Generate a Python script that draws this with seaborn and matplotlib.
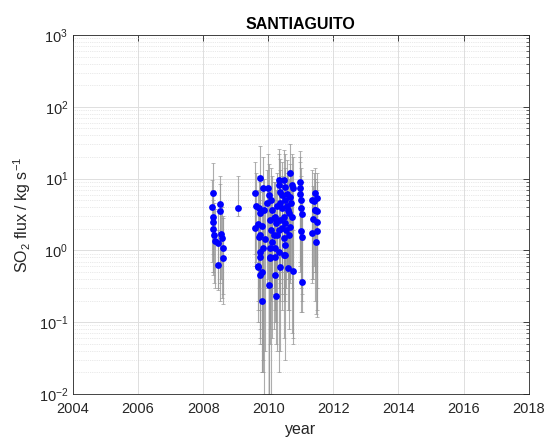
import numpy as np
import pandas as pd
import seaborn as sns
import matplotlib.pyplot as plt
from matplotlib.ticker import LogLocator, NullFormatter

# SO2 flux measurements (year, flux, lower bound, upper bound)
year = [
    2008.31, 2008.28, 2008.31, 2008.29, 2008.30, 2008.33, 2008.37, 2008.46,
    2008.52, 2008.52, 2008.56, 2008.58, 2008.62, 2008.60, 2008.44,
    2009.06,
    2009.73, 2009.60, 2009.84, 2009.98, 2009.62, 2009.70, 2009.75, 2009.86,
    2009.59, 2009.67, 2009.80, 2009.75, 2009.70, 2009.91, 2009.84, 2009.73,
    2009.67, 2010.01, 2009.96,
    2010.08, 2010.12, 2010.16, 2010.06, 2010.22, 2010.25, 2010.08, 2010.16,
    2010.27, 2010.11, 2010.04, 2010.22, 2010.32, 2010.06, 2010.22, 2010.47,
    2010.32, 2010.32, 2010.47, 2010.52, 2010.35, 2010.42, 2010.57, 2010.52,
    2010.37, 2010.27, 2010.42, 2010.57, 2010.63, 2010.47, 2010.37, 2010.52,
    2010.42, 2010.32, 2010.68, 2010.63, 2010.47, 2010.52, 2010.66, 2010.73,
    2010.76, 2010.68, 2010.70, 2010.59, 2010.73, 2010.55, 2010.37,
    2009.75, 2009.68, 2009.81, 2009.75, 2010.03, 2010.24, 2009.82, 2010.22,
    2010.62, 2010.50, 2010.06, 2010.76,
    2010.98, 2010.98, 2010.98, 2011.00, 2011.00, 2011.04, 2011.01, 2011.04,
    2011.04,
    2011.45, 2011.34, 2011.50, 2011.39, 2011.45, 2011.50, 2011.37, 2011.50,
    2011.34, 2011.50, 2011.48, 2011.42,
]
flux = [
    6.3, 4.0, 2.9, 2.5, 2.0, 1.64, 1.35, 1.25,
    4.4, 3.5, 1.7, 1.5, 1.07, 0.79, 0.63,
    3.86,
    10.3, 6.4, 7.3, 7.5, 4.15, 3.85, 3.3, 3.65,
    2.07, 2.33, 2.2, 1.64, 1.55, 1.44, 1.07, 0.82,
    0.59, 5.9, 4.6,
    5.0, 3.7, 2.8, 2.65, 2.9, 2.4, 1.92, 1.64,
    1.64, 1.32, 1.07, 1.07, 0.96, 0.80, 0.80, 0.86,
    9.5, 8.1, 9.5, 7.7, 6.6, 5.9, 6.2, 5.0,
    4.5, 4.1, 3.85, 4.1, 3.3, 2.95, 2.65, 2.4,
    2.03, 1.92, 2.15, 1.64, 1.47, 1.19, 12.1, 8.1,
    7.3, 5.6, 4.5, 3.7, 2.95, 1.92, 0.59,
    0.96, 0.61, 0.50, 0.45, 0.33, 0.23, 0.20, 0.45,
    0.56, 0.86, 0.78, 0.52,
    8.9, 7.3, 6.2, 5.0, 3.85, 3.2, 1.86, 1.55,
    0.36,
    6.4, 5.1, 5.3, 4.8, 3.65, 3.5, 2.7, 2.5,
    1.73, 1.88, 1.32, 3.7,
]
flux_lo = [
    0.9, 0.7, 0.5, 0.45, 0.5, 0.35, 0.3, 0.28,
    0.2, 0.35, 0.4, 0.22, 0.18, 0.25, 0.3,
    3.0,
    0.9, 0.6, 0.02, 0.4, 0.7, 0.3, 0.15, 0.01,
    0.9, 0.1, 0.05, 0.08, 0.2, 0.04, 0.03, 0.1,
    0.15, 0.01, 0.3,
    0.01, 0.06, 0.08, 0.05, 0.15, 0.1, 0.2, 0.3,
    0.04, 0.25, 0.1, 0.2, 0.02, 0.3, 0.15, 0.06,
    0.5, 0.4, 0.3, 0.4, 0.2, 0.15, 0.5, 0.03,
    0.4, 0.6, 0.5, 0.5, 0.08, 0.3, 0.35, 0.4,
    0.25, 0.3, 0.35, 0.15, 0.2, 0.25, 0.4, 0.3,
    0.05, 0.6, 0.5, 0.4, 0.07, 0.3, 0.04,
    0.06, 0.2, 0.02, 0.05, 0.01, 0.05, 0.02, 0.1,
    0.15, 0.2, 0.08, 0.06,
    0.7, 0.6, 0.5, 0.4, 0.3, 0.25, 0.14, 0.2,
    0.14,
    0.5, 0.4, 0.3, 0.6, 0.2, 0.12, 0.4, 0.3,
    0.35, 0.15, 0.13, 0.5,
]
flux_hi = [
    16.5, 9.5, 7.0, 6.0, 5.0, 4.5, 3.8, 3.5,
    11.0, 8.5, 4.2, 4.0, 3.0, 2.8, 1.9,
    10.8,
    28, 17, 20, 22, 12, 11, 9, 10,
    6, 7, 6.5, 5, 4.5, 4.5, 3.5, 3,
    2.2, 16, 13,
    14, 11, 9, 8, 9, 7, 6, 5,
    5, 4, 3.5, 3.2, 3, 2.5, 2.5, 2.8,
    26, 22, 25, 22, 19, 17, 18, 14,
    13, 12, 11, 12, 10, 9, 8, 7,
    6, 6, 6.5, 5, 4.5, 3.6, 30, 22,
    20, 16, 13, 11, 9, 6, 2.2,
    3, 2, 1.8, 1.6, 1.3, 0.9, 0.8, 1.6,
    2, 2.8, 2.6, 1.9,
    24, 20, 17, 14, 11, 9, 6, 5,
    1.4,
    14, 13, 12, 12, 10, 9, 8, 7,
    5, 5.5, 4, 10,
]

df = pd.DataFrame({'year': year, 'flux': flux, 'lo': flux_lo, 'hi': flux_hi})

sns.set_style('white')
plt.rcParams['font.family'] = ['Liberation Sans', 'DejaVu Sans']
plt.rcParams['mathtext.default'] = 'regular'

fig = plt.figure(figsize=(5.49, 4.40), dpi=100)
ax = fig.add_axes([0.133, 0.1045, 0.830, 0.816])

# error bars first, dots on top
ax.errorbar(df['year'], df['flux'],
            yerr=[df['flux'] - df['lo'], df['hi'] - df['flux']],
            fmt='none', ecolor='#999999', elinewidth=0.8, capsize=1.3,
            capthick=0.6, alpha=0.8, zorder=2)
sns.scatterplot(data=df, x='year', y='flux', color='#0000ff', s=24,
                linewidth=0, ax=ax, zorder=3)

ax.set_yscale('log')
ax.set_xlim(2004, 2018)
ax.set_ylim(1e-2, 1e3)
ax.set_xticks(np.arange(2004, 2019, 2))
ax.yaxis.set_major_locator(LogLocator(base=10, numticks=10))
ax.yaxis.set_minor_locator(LogLocator(base=10, subs=np.arange(2, 10), numticks=20))
ax.yaxis.set_minor_formatter(NullFormatter())

ax.grid(True, which='major', color='#dedede', linewidth=0.7, linestyle='-')
ax.grid(True, which='minor', axis='y', color='#d4d4d4', linewidth=0.5, linestyle=':')
ax.set_axisbelow(True)

for s in ax.spines.values():
    s.set_color('#262626')
    s.set_linewidth(0.6)
ax.tick_params(which='both', direction='in', top=True, right=True,
               colors='#262626', labelsize=10.5)
ax.tick_params(which='major', length=4, width=0.6)
ax.tick_params(which='minor', length=2, width=0.5)
ax.tick_params(axis='x', pad=6)

ax.set_title('SANTIAGUITO', fontsize=11.5, fontweight='bold', pad=4, color='black')
ax.set_xlabel('year', fontsize=11.5, color='#262626')
ax.set_ylabel('SO$_2$ flux / kg s$^{-1}$', fontsize=11.5, color='#262626')

fig.savefig('out.png', dpi=100)
